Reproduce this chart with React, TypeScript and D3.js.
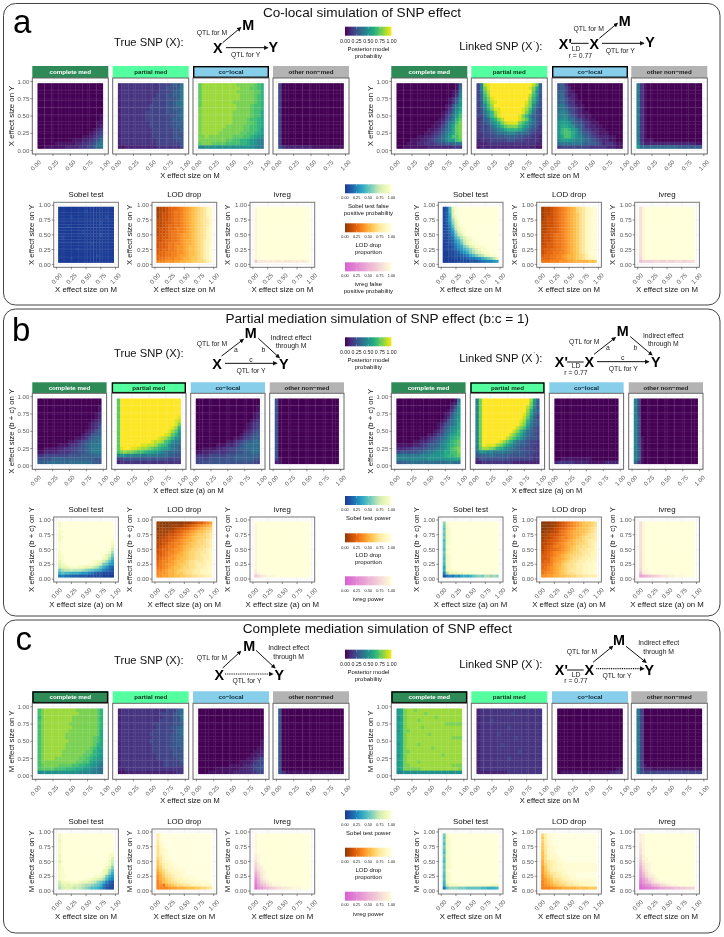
import React from "react";
import * as d3 from "d3";

// cell values, top row (y = 0.95) first, left column (x = 0.05) first
// a = 0.00, b = 0.05, c = 0.10 ... u = 1.00; a short row repeats its last letter
const aTrueComplete = ["a","a","a","a","a","a","a","a","a","aaaaaaaaaaaaaaaaaab","aaaaaaaaaaaaaaaaaab","aaaaaaaaaaaaaaaaabb","aaaaaaaaaaaaaaaaabc","aaaaaaaaaaaaaaaabcd","aaaaaaaaaaaaaaabcde","aaaaaaaaaaaaabbcdef","aaaaaaaaaabbbccdefh","aaaaabbbbbbccddefhi","aabbbbbbccccddeeghi"];
const aTruePartial = ["cdddddddddddeeefgfi","cdddddddddddeefffgi","cdddddddddddeeefggi","cddddddddddeeeffggi","cdddddddddeeeefffgi","cdddddddddeeeeffghi","cddddddddeeeeeffghi","cddddddddeeeeeffggh","cdddddddeeeeeefffgh","cdddddddeeeeeeeffgh","cdddddddeeeeeeefggh","cddddddddeeeeeeffgg","cddddddddeeeeeeffgg","cdddddddddeeeeeeffg","cdddddddddeeeeeefff","cdddddddddeeeeeefff","cddddddddddeeeeeeff","cddddddddddeeeeeeef","bbcccccccccddddddde"];
const aTrueColocal = ["prrrrrrrrrrqqqqqpon","prrrrrrrrrrrqqqppon","prrrrrrrrrrqqqqqppn","prrrrrrrrrrrqqqqpon","prrrrrrrrrrrqqqqpon","prrrrrrrrrqqqqqqpon","prrrrrrrrrrqqqqpoon","qrrrrrrrrrrqqqqpoon","qrrrrrrrrrqqqqqpoom","qrrrrrrrrrqqqqqpoom","qrrrrrrrrrqqqqpoonm","qrrrrrrrrrqqqqpponm","qrrrrrrrqqqqqppoonm","qrrrrrrqqqqqqppoonl","qrrrrrqqqqqqppoonml","qqrqqqqqqqpppoonmlk","qqqqqqqqppoonnmlkji","pqqqppppoooonnmlkji","jjkkkkkkkkkkkkkkjii"];
const aTrueOther = ["ea","ea","ea","ea","ea","ea","ea","ea","ea","ea","ea","ea","ea","ea","ea","ea","ea","ea","fdccccccccb"];
const aLinkedComplete = ["aaaaaaaaaaaaaaaaabg","aaaaaaaaaaaaaaaaabh","aaaaaaaaaaaaaaaabci","aaaaaaaaaaaaaaaabdj","aaaaaaaaaaaaaaabdfk","aaaaaaaaaaaaaaabdgl","aaaaaaaaaaaaaabcfil","aaaaaaaaaaaaaabdgjm","aaaaaaaaaaaaabcehkn","aaaaaaaaaaaaabdfilo","aaaaaaaaaaaabcegjnp","aaaaaaaaaaabbdfikoq","aaaaaaaaaabbcegjmpq","aaaaaaaaabbcdfhjmpq","aaaaaaaabbcdegikmpq","aaaaaabbccdefhjlooq","aaaabbbccdefghjllop","aaabbbccdddeffgghhi","aabbbbbbbcccccccddd"];
const aLinkedPartial = ["ejstuuuuuuuuuuuuspg","ejqtuuuuuuuuuuutqmg","eipsuuuuuuuuuuuupkg","ehoruuuuuuuuuuusolf","ehnqtuuuuuuuuuurnjf","egmpstuuuuuuuutqmif","egkoruuuuuuuuusqkhf","efjnqttuuuuuutrojge","efilnrtuuuuuutqnife","eehknqtuuuuutqnjgfe","deghlnqsuuuutrplhfe","defhjlnqstttqomjhfe","deefhjlnpqqqomkigfd","deefghjkmnnnmkigfed","ddeefghhijjihhgfedd","ddeeefffggggffeeddc","cdddeeeeeffeeeddddc","cccddddddddddddddcc","bccccccccccccccccbb"];
const aLinkedColocal = ["fgdba","fgeca","ggecba","gheccba","ghfdcba","ghfddbba","higedcbba","hihfedcba","ijigedcbba","ijjhfeccbba","jkkihfedcbba","kllkhgfedcbba","kmmlkhgfdccbba","knonlkhfedccbba","knoomkigfedcbbba","kmoomkjhgfedcccbba","jlllkjjihgfedccbbaa","hiiiiiihgggfecddcbb","deeeeeeeedddddcccbb"];
const aLinkedOther = ["idba","idba","idba","idba","idba","idba","idba","idba","idba","idba","idba","idba","idba","idba","idba","idba","idbbba","jecccccccccccccccbb","lhhhhhhhhhhhg"];
const aTrueSobel = ["a","aaaaaaaaabaaaaaa","a","aaaabaaaaaaaaaaaba","a","aaaaaaaaaaaaaabaa","aaabaaaaaaaaa","a","aaaaaaaabaaa","aaaaaaaaaaaaaaba","abaaaaaaaaaaa","a","aaaaaaaaaaabaaa","a","aaaaaabaaaaaaa","a","aaaaaaaaaaaaabaaaa","aaaabaaaa","a"];
const aTrueLod = ["bccdeffghijklmnoprs","bccdefgghijklmnoprs","bcddefgghijklmnoprs","bcddefgghijklmnoprs","ccddefgghijklmnopqs","ccdeefgghijklmnopqs","ccdeffgghijklmnopqs","cddeffghhijklmnoprs","cddefgghhijklmnoprs","cddefgghijjklmnoprs","ddeefgghijjklmnoprs","ddeffgghijkklmnoqrs","deefgghhijkklmnoqrs","deefgghiijkllmnoqrt","eeffgghiijkllmnoqrt","effgghhiijkllmnoqrt","fffgghhijjkllmnoqrt","fgghhhiijkklmmnoqrt","hhhiiijjkkllmmnnoqr"];
const aTrueIvreg = ["tu","tu","tu","tu","tu","tu","tu","tu","tu","tu","tu","tu","tu","tu","tu","tu","tu","tu","nrrrsrsrrsrrrsrsrst"];
const aLinkedSobel = ["bdjrtu","bdjqtu","bdiqtu","bdhpsu","bdhnrtu","bdgmqtu","bcfkpstu","bceiorttu","bcegmqstu","bbdfkoqtu","bbdeiloqstu","abcdgimprstu","abcdfhkorsttu","abbceghlnqrtttu","abbcdfgikmoqsttu","aabbcdfgilnpqsttu","aabbccdefhjlnorsttu","aaabbbccdeefgijlmor","aaaaabbbbcccdeeffgh"];
const aLinkedLod = ["bccdefghijklnoprstt","bccdefghijklnoprstt","bccdefghijklmoprstt","bcddefghijklmoprstt","bcddefghijklmoprstt","ccddefghijklmoprstt","ccddefghijklmoprstt","ccdeefghijklmoprstt","ccdeefghijklmoprstt","cddefgghijklmoprstt","cddefgghijklmoprstt","cddefgghijklmoprstt","cdeefgghijklmoprstt","ddeefgghijklmoprstt","deeffgghijklmoprstt","deffgghhijklmoprstt","effgghhijkklmnoqstt","fffgghhijkklmnoqrst","ggghhhiiijjkkkkkllm"];
const aLinkedIvreg = ["qtu","qtu","qtu","qtu","qtu","qtu","qtu","qtu","qtu","qtu","qtu","qtu","qtu","qtu","qtu","qtu","qtu","ptu","mooooppoopoopppoppq"];

const bTrueComplete = ["a","a","aaaaaaaaaaaaaaaaaab","aaaaaaaaaaaaaaaaaab","aaaaaaaaaaaaaaaaabc","aaaaaaaaaaaaaaaaabc","aaaaaaaaaaaaaaaabcd","aaaaaaaaaaaaaaabcde","aaaaaaaaaaaaaaabcdf","aaaaaaaaaaaaaabcdfg","aaaaaaaaaaaaabcdfgg","aaaaaaaaaaabbcdfghh","aaaaaaaaabbcdefghhi","aaaaaabbbcddefghiii","aabbbbccddeeffghiii","bbccccddddeeffghiii","ddeeeeeeeffffgggghh","ffffgggggggggggggff","ggghhhhhhhhhhhhhggf"];
const bTruePartial = ["pu","pu","pu","pu","pu","puuuuuuuuuuuuuuuuut","puuuuuuuuuuuuuuuuts","puuuuuuuuuuuuuuuutq","puuuuuuuuuuuuuuutrn","puuuuuuuuuuuuuutrpl","puuuuuuuuuuuuutspnk","puuuuuuuuuuutsrpnkj","puuuuuuuuutssronkii","puuuuuuttssrponkihh","ptuuttsrrqponmlkihg","oqrqqpoonmmlkjihhgg","jkkjjjjiiiiihhhggff","eefffffffffffffeeee","cd"];
const bTrueColocal = ["a","a","aaaaaaaaaaaaaaaaaab","aaaaaaaaaaaaaaaaaab","aaaaaaaaaaaaaaaaabc","aaaaaaaaaaaaaaaaabc","aaaaaaaaaaaaaaaabcd","aaaaaaaaaaaaaaabcde","aaaaaaaaaaaaaaabcde","aaaaaaaaaaaaaabcdef","aaaaaaaaaaaaabcdefg","aaaaaaaaaaabbcdefgg","aaaaaaaaabbcdefgghh","aaaaaabbbccdefghhhh","aabbbbccddeefgghhhh","bbcccdddddeeffgghhh","ddddeeeeefffggggggg","eeeefffffffggggggff","eefffffffffffffffee"];
const bTrueOther = ["fa","fa","fa","fa","fa","fa","fa","fa","fa","fa","fa","fa","fa","fa","fa","fa","fa","eba","cba"];
const bLinkedComplete = ["aaaaaaaaaaaaaaaaabh","aaaaaaaaaaaaaaaabcj","aaaaaaaaaaaaaaaacfk","aaaaaaaaaaaaaaabdhk","aaaaaaaaaaaaaabcfik","aaaaaaaaaaaaaabdgjl","aaaaaaaaaaaaabcfhjl","aaaaaaaaaaaabceghjm","aaaaaaaaaaaabdfhjkm","aaaaaaaaaaabcegijln","aaaaaaaaabbcefhjlmn","aaaaaaabbcdefhikmno","aaaaabbccdefgijlnop","bbbbbccdefgghjkmnop","cccddeeefgghijkmopq","efffffgghiijkkmmooq","iiiiiiijjjkkklmnnop","jjjjjjjjjkkkkkkllmm","ggghhhhhhhhhhhhiihh"];
const bLinkedPartial = ["jquuuuuuuuuuuuuurlg","jquuuuuuuuuuuuuuqkg","jquuuuuuuuuuuuuspjf","jquuuuuuuuuuuuurnig","jquuuuuuuuuuuutqmhf","jquuuuuuuuuuuuspkge","jquuuuuuuuuuutrnjgf","jquuuuuuuuuuusqmigf","jquuuuuuuuuusqokhfe","jquuuuuuuuusqnkhgfe","jquuuuuuuusqomjhgfe","jquuuuuuusqomkigffe","jquuuuutrpnkihgfeed","jqutttrqomkihggfeed","iprrqpnmljihgffeedd","hkkjjiiiihhgggffeed","ggghhhggggfffffeedd","dfffffffffeeeeeeedd","ccdddddddddc"];
const bLinkedColocal = ["a","a","a","a","a","a","a","a","a","a","a","a","a","a","a","a","a","aabbbbbbbbba","cdddddccccbbbbbc"];
const bLinkedOther = ["jea","jea","jea","jea","jea","jfa","jfa","jfa","jfa","jfa","jfa","jfba","jfba","jfba","jgba","jgba","jgba","jgba","hdba"];
const bTrueSobel = ["su","su","tu","stu","su","stu","suuuuuuuuuuuuuuuuut","tuuuuuuuuuuuuuuuuus","tuuuuuuuuuuuuuuuuur","tuuuuuuuuuuuuuuuutp","suuuuuuuuuuuuuuutsn","stuuuuuuuuuuuuutrpl","stuuuuuuuuuuuuusrnj","rtuuuuuuuuuttsrpnkh","qstuuuuuuuttsrplkhg","prrstttssrrqonkiged","lnoopooonmlkjihfedc","ikjjiiihggfedccbbbb","efeedddcccbbbbba"];
const bTrueLod = ["baaaaaaaabbbcdeeghj","baaaabbbbcdefghijkl","abbbbbcdeefghijklmn","bbbbccdefghijkllmno","bbbcddefghijklmmnop","bccdeefghijklmmnnop","ccddefghijkklmnnopq","ccdefghhijklmmnnopq","cdefgghijkllmnnoopq","deffghiijklmnnoopqr","defghhijklmnnooppqr","eefghijkklmnnoopqqr","efghiijkllmnnoopqqr","fghhijkllmnoopppqrr","fghijjklmmnoopqqqrr","gghijkllmnnoopqqrrs","hhijkklmnnoopqqrrss","hiijkklmmnoopqqrrss","iijjkkllmmnnooppqqr"];
const bTrueIvreg = ["u","tu","tu","tu","tu","tu","tu","tu","tu","tu","tu","tu","tu","tu","tu","tu","su","rtu","nprstttu"];
const bLinkedSobel = ["mtu","lsu","kstu","lstu","kstu","lstu","jstu","kstu","ktu","jstu","ltu","kstu","jstu","kstu","jstu","hstu","isttu","fnrrrssttttu","cefegfhihiklmlnnmnm"];
const bLinkedLod = ["aaabbcdefghijklmmno","aaabbcdefghijkllmno","aabbcdefghijkllmnop","abbccdfghijkkllmnop","bbcddefghijkklmnopq","bccdefghhijklmnoopq","bcdeefghijklmmnopqq","ccdefghijkklmnnopqr","cdefghhijklmnnoopqr","cdeffghijklmnoopqqr","defghiijklmnnoppqrr","eefghijklmnnoopqqrr","eefhijjklmnoopqqrrs","effhijklmnoopqqrrss","ffghjkkmnoopqqrrsst","fghijklmnoopqqrrsst","gghijklmnoppqqrrsst","ghiijklmnoopqqrrsst","iijjkkllmmnnooppqqq"];
const bLinkedIvreg = ["qtu","qtu","qtu","qtu","qtu","qtu","qtu","qtu","qtu","qtu","qtu","qtu","qtu","qtu","qtu","qtu","pttu","msttu","ijlmnopqrrsstttu"];

const cTrueComplete = ["oqrrrrrrrrrqqqqqqpn","oqrrrrrrrrrrqqqqqpn","nqrrrrrrrrqqqqqqqpn","oqrrrrrrrrqqqqqqqpn","oqrrrrrrrqqqqqqqqpn","oqrrrrrrrrqqqqqqqpn","oqrrrrrrrqqqqqqqqpm","oqrrrrrrqqqqqqqqqpm","oqrrrrrrqqqqqqqqpom","oqrrrrrrrqqqqqqqpom","oqrrrrrrqqqqqqqqpnm","oqrrrrrrqqqqqqqpomm","oqrrrrrqqqqqqqppnml","oqrrrrrqqqqqqpponml","oqrrrqqqqqqqpponmlk","oqqqqqqqqqqppoomlkj","opqqqqppppoonnmlkji","oppppooonnnmmlkkjih","jkkkkkkkkkkkjjjjiih"];
const cTruePartial = ["cdddddddddddddeeegh","cdddddddddddeeeefgh","cddddddddddddeeeffi","cdddddddddddeeeeffh","cdddddddddeeeeeeffg","cddddddddddeeeeffgh","cdddddddddeeeeeefgh","cddddddddeeeeeeffgh","cdddddddddeeeeeffgg","cddddddddeeeeeeffgg","cdddddddddeeeeeffgg","cdddddddddeeeeefffg","cdddddddddeeeeeefff","cddddddddddeeeeefff","cddddddddddeeeeeeff","cddddddddddddeeeeef","cddddddddddddeeeeee","ccd","bbcccccccccccccccdd"];
const cTrueColocal = ["a","a","a","a","a","a","a","a","a","aaaaaaaaaaaaaaaaaab","aaaaaaaaaaaaaaaaaab","aaaaaaaaaaaaaaaaabb","aaaaaaaaaaaaaaaabbc","aaaaaaaaaaaaaaabbcc","aaaaaaaaaaaaaabbcde","aaaaaaaaaaaabbbcdee","aaaaaaaaabbbbccdeef","aaaaabbbbbbbcccdeff","aaabbbbbbbcccccddee"];
const cTrueOther = ["fa","fa","fa","fa","fa","fa","fa","fa","fa","fa","fa","fa","fa","fa","fa","fa","fa","fa","fdb"];
const cLinkedComplete = ["lmqrrqr","lmqrrrrrqrrrrr","kmqrrrrrrrrqr","lmqrrrqr","lmqrrrrrrrrrrrq","lmqrrrrqrr","kmqqrrrrrrrrrr","lmqrrrrrrqrrr","lmqrrrrrrrrrrrrrq","lmqrrrr","kmqrrrqrrrr","lmqrrrrrrrqrrr","lmqqrrrrrrrrrr","kmqrrrrrrrrrrqr","lmqrrrr","lmqrrrqrrrrrr","lmqqrrrrrrrrrrrrq","lmqqqqqrrrrrrrrrrrq","jjk"];
const cLinkedPartial = ["cd","cddddddddded","cd","cdddedddd","cd","cdddddddded","cd","cddddded","cdddddddddded","cd","cdddddded","cd","cddddddddddded","cd","cdddddddded","cd","cd","cd","cccccccccd"];
const cLinkedColocal = ["a","a","a","a","a","a","a","a","a","a","a","a","a","a","a","a","a","aaaaaaaaaaaaaaaaabb","abbbbbbbbbbbbbbccdc"];
const cLinkedOther = ["iea","iea","iea","iea","iea","iea","iea","iea","iea","iea","iea","iea","iea","iea","iea","iea","ieba","ieccb","ife"];
const cTrueSobel = ["su","su","ru","su","su","su","suuuuuuuuuuuuuuuuut","ruuuuuuuuuuuuuuuuts","suuuuuuuuuuuuuuuutq","qtuuuuuuuuuuuuuuusp","suuuuuuuuuuuuuuutso","stuuuuuuuuuuuuuusqm","stuuuuuuuuuuuuusrnk","stuuuuuuuuuuuutsqmi","sttuuuuuuuuuttsqlig","stuuuuuuuttsrqpnjgf","pssstttsrrqpomkifdc","oqrqrqqponnmlkifdcb","npqqqoponmljjigecbb"];
const cTrueLod = ["ptu","qtu","ptu","pstu","ostu","orstu","orstu","oqstu","npsttu","mprsttu","moqrsttu","lnqrssttu","kmoqrsstttu","jlnpqrssttu","ikmopqrsstttu","iklnopqrrsstttu","hjlmnopqrrssstttttu","higklmnooppqrrrsss","hhhhijjkkklllmmnnop"];
const cTrueIvreg = ["tu","tu","tu","tu","tu","tu","tu","stu","rtu","qtu","psu","orsu","mqstu","kortu","inrtu","glqstu","fkoqstu","dilnqrtttu","cghklnopqrrsstttu"];
const cLinkedSobel = ["lsu","kstu","lstu","jstu","lstu","kstu","jstu","lstu","kstu","jstu","lstu","kstu","ltu","kstu","jstu","kstu","istu","ipssstttttttttttsss","ekmmmlllkkkkkjjiiij"];
const cLinkedLod = ["nqttu","mqttu","nqstu","mqstu","mpssttu","mpsstu","lpsstu","lorsstu","lorssttu","kopqrsttu","knpqrsstt","jmpqrsstt","jmoqrrssttt","jlnppqrsstttu","ikmnpqqrrsttu","ijlmoopqrrsstt","hjklnnoppqqrrsssstt","hijklmnnoppqqrrssst","hhhiijjkkkkkllllm"];
const cLinkedIvreg = ["stu","stu","stu","rtu","rtu","qtu","qtu","psu","ostu","nrtu","mqstu","kpstu","jortu","imqstu","hkprstu","filpqstu","ehkmprsttu","ceghkmnpqrsttu","bcdefghjjkklmmnnoop"];

const stripLabels = ["complete med", "partial med", "co\u2212local", "other non\u2212med"];
const stripFills = ["#2e8b57", "#54ff9f", "#87ceeb", "#b3b3b3"];
const stripInks = ["#ffffff", "#0d2d18", "#0d2430", "#1a1a1a"];
const methodLabels = ["Sobel test", "LOD drop", "ivreg"];
const tickValues = [0, 0.25, 0.5, 0.75, 1];
const seamValues = [0.125, 0.25, 0.375, 0.5, 0.625, 0.75, 0.875];
const fmt = d3.format(".2f");

const sobelStops = ["#1a3a94", "#225ea8", "#1d91c0", "#41b6c4", "#7fcdbb", "#c7e9b4", "#edf8b1", "#ffffd9"];
const lodStops = ["#8a3a08", "#cc4c02", "#ec7014", "#fe9929", "#fec44f", "#fee391", "#fff7bc", "#ffffe0"];
const ivregStops = ["#d860d0", "#ffffd9"];

const ramp = (stops: string[]) =>
  d3.scaleLinear<string>().domain(stops.map((_, i) => i / (stops.length - 1))).range(stops).clamp(true);
const viridis = (t: number) => d3.interpolateViridis(t);
const sobelColor = ramp(sobelStops);
const lodColor = ramp(lodStops);
const ivregColor = ramp(ivregStops);

const FONT = "'Liberation Sans', Arial, sans-serif";
const cellCenters = d3.range(19).map((i) => (i + 1) * 0.05);

type PlotProps = { x0: number; y0: number; w: number; h: number; rows: string[]; color: (t: number) => string; yTicks: boolean; tickFont: number; border: string };

const Plot = ({ x0, y0, w, h, rows, color, yTicks, tickFont, border }: PlotProps) => {
  const pad = 0.05 / 1.1;
  const x = d3.scaleLinear().domain([0, 1]).range([x0 + w * pad, x0 + w * (1 - pad)]);
  const y = d3.scaleLinear().domain([0, 1]).range([y0 + h * (1 - pad), y0 + h * pad]);
  const cw = x(0.05) - x(0);
  const ch = y(0) - y(0.05);
  const overlap = 0.3;
  return (
    <g>
      <rect x={x0} y={y0} width={w} height={h} fill="#fff" />
      {tickValues.map((t) => (
        <g key={t} stroke="#ebebeb" strokeWidth={0.5}>
          <line x1={x(t)} x2={x(t)} y1={y0} y2={y0 + h} />
          <line x1={x0} x2={x0 + w} y1={y(t)} y2={y(t)} />
        </g>
      ))}
      {rows.map((row, r) => {
        const full = row.padEnd(19, row[row.length - 1]);
        return cellCenters.map((cx, c) => (
          <rect
            key={c}
            x={x(cx) - cw / 2}
            y={y(0.95 - r * 0.05) - ch / 2}
            width={cw + (c < 18 ? overlap : 0)}
            height={ch + (r < 18 ? overlap : 0)}
            fill={color((full.charCodeAt(c) - 97) * 0.05)}
          />
        ));
      })}
      {seamValues.map((t) => (
        <g key={t} stroke="#fff" strokeWidth={0.4} strokeOpacity={0.16}>
          <line x1={x(t)} x2={x(t)} y1={y(0.025)} y2={y(0.975)} />
          <line x1={x(0.025)} x2={x(0.975)} y1={y(t)} y2={y(t)} />
        </g>
      ))}
      <rect x={x0} y={y0} width={w} height={h} fill="none" stroke={border} strokeWidth={1} />
      {tickValues.map((t) => (
        <g key={t}>
          <line x1={x(t)} x2={x(t)} y1={y0 + h} y2={y0 + h + 2} stroke="#444" strokeWidth={0.6} />
          <text
            transform={`translate(${x(t)},${y0 + h + 11.3}) rotate(-45)`}
            textAnchor="middle"
            dy="0.35em"
            fontSize={tickFont}
            fill="#5a5a5a"
          >
            {fmt(t)}
          </text>
          {yTicks && (
            <g>
              <line x1={x0 - 2} x2={x0} y1={y(t)} y2={y(t)} stroke="#444" strokeWidth={0.6} />
              <text x={x0 - 3} y={y(t)} dy="0.35em" textAnchor="end" fontSize={tickFont} fill="#5a5a5a">
                {fmt(t)}
              </text>
            </g>
          )}
        </g>
      ))}
    </g>
  );
};

type LegendProps = { top: number; tickY: number; color: (t: number) => string; id: string; lines: [string, number][]; tickFont: number };

const Legend = ({ top, tickY, color, id, lines, tickFont }: LegendProps) => {
  const x = d3.scaleLinear().domain([0, 1]).range([345, 391.5]);
  return (
    <g>
      <defs>
        <linearGradient id={id}>
          {d3.range(0, 1.01, 0.1).map((t) => (
            <stop key={t} offset={t} stopColor={color(t)} />
          ))}
        </linearGradient>
      </defs>
      <rect x={345} y={top} width={46.5} height={9} fill={`url(#${id})`} />
      {tickValues.slice(1, 4).map((t) => (
        <g key={t} stroke="#fff" strokeWidth={0.3}>
          <line x1={x(t)} x2={x(t)} y1={top} y2={top + 2} />
          <line x1={x(t)} x2={x(t)} y1={top + 7} y2={top + 9} />
        </g>
      ))}
      {tickValues.map((t) => (
        <text key={t} x={x(t)} y={tickY} dy="0.35em" textAnchor="middle" fontSize={tickFont} fill="#222">
          {fmt(t)}
        </text>
      ))}
      {lines.map(([s, ly]) => (
        <text key={s} x={368.4} y={ly} dy="0.35em" textAnchor="middle" fontSize={6} fill="#111">
          {s}
        </text>
      ))}
    </g>
  );
};

// diagram pieces are given in 3x units, relative to the crop origin
type Note = [string, number, number, boolean?];
type Arrow = [number, number, number, number, boolean?];

const Diagram = ({ ox, oy, notes, arrows, plain }: { ox: number; oy: number; notes: Note[]; arrows: Arrow[]; plain?: number[] }) => (
  <g transform={`translate(${ox},${oy}) scale(${1 / 3})`}>
    {arrows.map(([x1, y1, x2, y2, dotted], i) => (
      <line
        key={i}
        x1={x1}
        y1={y1}
        x2={x2}
        y2={y2}
        stroke="#111"
        strokeWidth={dotted ? 3.4 : 3}
        strokeDasharray={dotted ? "3 2.5" : undefined}
        markerEnd="url(#arrowHead)"
      />
    ))}
    {plain && <line x1={plain[0]} x2={plain[1]} y1={plain[2]} y2={plain[2]} stroke="#111" strokeWidth={3} />}
    {notes.map(([s, x, y, bold], i) => (
      <text key={i} x={x} y={y} dy="0.35em" textAnchor="middle" fontSize={bold ? 43 : 20.5} fontWeight={bold ? 700 : 400} fill={bold ? "#000" : "#222"}>
        {s}
      </text>
    ))}
  </g>
);

const Linked = ({ x, y }: { x: number; y: number }) => (
  <text x={x} y={y} fontSize={11.2} fill="#111">
    Linked SNP (X
    <tspan dy={-5.5} dx={1} fontSize={6}>'</tspan>
    <tspan dy={5.5} dx={1}>):</tspan>
  </text>
);

type Group = { stripY: number; stripH: number; panelY: number; panelH: number; panelW: number; xs: number[]; rows: string[][]; picked: number; yLabel: string; xLabel: string; xLabelX: number; xLabelY: number };
type Lower = { boxY: number; xs: number[]; rows: string[][]; yLabel: string; xLabel: string };

const Upper = ({ g }: { g: Group }) => (
  <g>
    {g.xs.map((x0, i) => (
      <g key={i}>
        <rect x={x0} y={g.stripY} width={g.panelW} height={g.stripH} fill={stripFills[i]} />
        {g.picked === i && (
          <rect x={x0 + 0.7} y={g.stripY + 0.7} width={g.panelW - 1.4} height={g.stripH - 1.4} fill="none" stroke="#000" strokeWidth={1.4} />
        )}
        <text x={x0 + g.panelW / 2} y={g.stripY + g.stripH / 2} dy="0.35em" textAnchor="middle" fontSize={6.2} fontWeight={700} fill={stripInks[i]}>
          {stripLabels[i]}
        </text>
        <Plot x0={x0} y0={g.panelY} w={g.panelW} h={g.panelH} rows={g.rows[i]} color={viridis} yTicks={i === 0} tickFont={6} border="#666" />
      </g>
    ))}
    <text transform={`translate(${g.xs[0] - 21.3},${g.panelY + g.panelH / 2}) rotate(-90)`} textAnchor="middle" fontSize={7.8} dy="0.35em" fill="#111">
      {g.yLabel}
    </text>
    <text x={g.xLabelX} y={g.xLabelY} dy="0.35em" textAnchor="middle" fontSize={7.5} fill="#111">
      {g.xLabel}
    </text>
  </g>
);

const Bottom = ({ l }: { l: Lower }) => (
  <g>
    {l.xs.map((x0, i) => {
      const color = [sobelColor, lodColor, ivregColor][i];
      return (
        <g key={i}>
          <text x={x0 + 32.3} y={l.boxY - 8} dy="0.35em" textAnchor="middle" fontSize={7.9} fill="#111">
            {methodLabels[i]}
          </text>
          <Plot x0={x0} y0={l.boxY} w={64.7} h={65} rows={l.rows[i]} color={color} yTicks tickFont={6.2} border="#777" />
          <text transform={`translate(${x0 - 22.4},${l.boxY + 32.5}) rotate(-90)`} textAnchor="middle" dy="0.35em" fontSize={7.8} fill="#111">
            {l.yLabel}
          </text>
          <text x={x0 + 32.3} y={l.boxY + 87} dy="0.35em" textAnchor="middle" fontSize={7.8} fill="#111">
            {l.xLabel}
          </text>
        </g>
      );
    })}
  </g>
);

const leftWide = [32.3, 112.7, 193, 273];
const rightWide = [391.3, 471.3, 552, 631.3];
const leftMid = [32.3, 111.7, 190.7, 269.7];
const rightMid = [391.3, 470.3, 549.3, 628.7];
const lowerLeft = [53.7, 152, 250];
const lowerRight = [438.3, 536.7, 634.7];

const Title = ({ x, y, children }: { x: number; y: number; children: string }) => (
  <text x={x} y={y} textAnchor="middle" fontSize={13.6} fill="#111">
    {children}
  </text>
);

export default function App() {
  const upperA = { stripY: 66, stripH: 12, panelY: 78, panelH: 76, panelW: 76, yLabel: "X effect size on Y", xLabel: "X effect size on M", xLabelY: 175 };
  const upperB = { stripY: 382.3, stripH: 11, panelY: 393.3, panelH: 76, panelW: 74.3, yLabel: "X effect size (b + c) on Y", xLabel: "X effect size (a) on M", xLabelY: 490 };
  const upperC = { stripY: 691.3, stripH: 12, panelY: 703.3, panelH: 76, panelW: 76, yLabel: "M effect size on Y", xLabel: "X effect size on M", xLabelY: 800.3 };
  return (
    <svg width={724} height={937} style={{ position: "absolute", left: 0, top: 0, filter: "blur(0.3px)" }} fontFamily={FONT}>
      <defs>
        <marker id="arrowHead" viewBox="0 0 10 10" refX="8" refY="5" markerWidth="4.5" markerHeight="4.5" orient="auto-start-reverse">
          <path d="M0,0 L10,5 L0,10 Z" fill="#111" />
        </marker>
      </defs>
      <rect width={724} height={937} fill="#fff" />
      <rect x={3.5} y={3.5} width={716.5} height={301.5} rx={12} fill="#fff" stroke="#444" strokeWidth={1} />
      <rect x={3.5} y={309} width={716.5} height={307} rx={12} fill="#fff" stroke="#444" strokeWidth={1} />
      <rect x={3.5} y={620} width={716.5} height={313} rx={12} fill="#fff" stroke="#444" strokeWidth={1} />

      {/* panel a */}
      <text x={13} y={33} fontSize={33} fill="#000">a</text>
      <Title x={362} y={17}>Co-local simulation of SNP effect</Title>
      <text x={114} y={46} fontSize={11.2} fill="#111">True SNP (X):</text>
      <Linked x={459.3} y={50} />
      <Diagram ox={0} oy={0}
        notes={[["X", 653, 145, true], ["M", 745, 75, true], ["Y", 820, 141, true], ["QTL for M", 636, 98], ["QTL for Y", 737, 165]]}
        arrows={[[668, 128, 722, 83], [678, 143, 803, 143]]} />
      <Diagram ox={362} oy={0} plain={[627, 680, 130]}
        notes={[["X'", 610, 133, true], ["X", 697, 133, true], ["M", 788, 62, true], ["Y", 864, 127, true], ["LD", 642, 147], ["r = 0.77", 655, 167], ["QTL for M", 680, 86], ["QTL for Y", 775, 152]]}
        arrows={[[712, 115, 766, 70], [720, 130, 845, 130]]} />
      <Legend id="ga1" top={26.7} tickY={40.7} color={viridis} tickFont={5.2} lines={[["Posterior model", 49], ["probability", 56]]} />
      <Legend id="ga2" top={184.3} tickY={197.7} color={sobelColor} tickFont={3.8} lines={[["Sobel test false", 206], ["positive probability", 212.7]]} />
      <Legend id="ga3" top={223.3} tickY={237} color={lodColor} tickFont={3.8} lines={[["LOD drop", 245.3], ["proportion", 252]]} />
      <Legend id="ga4" top={262.3} tickY={276} color={ivregColor} tickFont={3.8} lines={[["ivreg false", 284.3], ["positive probability", 291]]} />
      <Upper g={{ ...upperA, xs: leftWide, rows: [aTrueComplete, aTruePartial, aTrueColocal, aTrueOther], picked: 2, xLabelX: 190 }} />
      <Upper g={{ ...upperA, xs: rightWide, rows: [aLinkedComplete, aLinkedPartial, aLinkedColocal, aLinkedOther], picked: 2, xLabelX: 549.5 }} />
      <Bottom l={{ boxY: 202.3, xs: lowerLeft, rows: [aTrueSobel, aTrueLod, aTrueIvreg], yLabel: "X effect size on Y", xLabel: "X effect size on M" }} />
      <Bottom l={{ boxY: 202.3, xs: lowerRight, rows: [aLinkedSobel, aLinkedLod, aLinkedIvreg], yLabel: "X effect size on Y", xLabel: "X effect size on M" }} />

      {/* panel b */}
      <text x={12} y={340.7} fontSize={33} fill="#000">b</text>
      <Title x={377.3} y={322.7}>Partial mediation simulation of SNP effect (b:c = 1)</Title>
      <text x={114} y={357.3} fontSize={11.2} fill="#111">True SNP (X):</text>
      <Linked x={459.3} y={361.7} />
      <Diagram ox={0} oy={310}
        notes={[["X", 651, 162, true], ["M", 752, 68, true], ["Y", 851, 162, true], ["QTL for M", 636, 100], ["a", 708, 120], ["b", 790, 118], ["c", 753, 148], ["QTL for Y", 753, 182], ["Indirect effect", 873, 82], ["through M", 873, 106]]}
        arrows={[[665, 138, 730, 88], [775, 85, 838, 143], [675, 160, 830, 160]]} />
      <Diagram ox={362} oy={310} plain={[615, 665, 156]}
        notes={[["X'", 598, 155, true], ["X", 682, 155, true], ["M", 782, 62, true], ["Y", 881, 156, true], ["LD", 642, 168], ["r = 0.77", 642, 188], ["QTL for M", 667, 95], ["a", 738, 113], ["b", 820, 112], ["c", 782, 142], ["QTL for Y", 784, 177], ["Indirect effect", 904, 77], ["through M", 904, 100]]}
        arrows={[[696, 133, 760, 83], [805, 80, 870, 135], [705, 155, 860, 155]]} />
      <Legend id="gb1" top={337.3} tickY={351.7} color={viridis} tickFont={5.2} lines={[["Posterior model", 360], ["probability", 366.7]]} />
      <Legend id="gb2" top={496} tickY={510} color={sobelColor} tickFont={3.8} lines={[["Sobel test power", 518.3]]} />
      <Legend id="gb3" top={533.3} tickY={547.3} color={lodColor} tickFont={3.8} lines={[["LOD drop", 555.3], ["proportion", 562.3]]} />
      <Legend id="gb4" top={576.3} tickY={590.7} color={ivregColor} tickFont={3.8} lines={[["ivreg power", 599.3]]} />
      <Upper g={{ ...upperB, xs: leftMid, rows: [bTrueComplete, bTruePartial, bTrueColocal, bTrueOther], picked: 1, xLabelX: 188.5 }} />
      <Upper g={{ ...upperB, xs: rightMid, rows: [bLinkedComplete, bLinkedPartial, bLinkedColocal, bLinkedOther], picked: 1, xLabelX: 547 }} />
      <Bottom l={{ boxY: 517, xs: lowerLeft, rows: [bTrueSobel, bTrueLod, bTrueIvreg], yLabel: "X effect size (b + c) on Y", xLabel: "X effect size (a) on M" }} />
      <Bottom l={{ boxY: 517, xs: lowerRight, rows: [bLinkedSobel, bLinkedLod, bLinkedIvreg], yLabel: "X effect size (b + c) on Y", xLabel: "X effect size (a) on M" }} />

      {/* panel c */}
      <text x={15.5} y={650.3} fontSize={33} fill="#000">c</text>
      <Title x={377.3} y={633.3}>Complete mediation simulation of SNP effect</Title>
      <text x={114} y={664} fontSize={11.2} fill="#111">True SNP (X):</text>
      <Linked x={459.3} y={668} />
      <Diagram ox={0} oy={618}
        notes={[["X", 658, 172, true], ["M", 748, 84, true], ["Y", 838, 172, true], ["QTL for M", 636, 118], ["QTL for Y", 741, 187], ["Indirect effect", 866, 90], ["through M", 866, 115]]}
        arrows={[[668, 150, 722, 100], [768, 97, 825, 150], [675, 168, 818, 168, true]]} />
      <Diagram ox={362} oy={618} plain={[615, 665, 156]}
        notes={[["X'", 598, 156, true], ["X", 682, 156, true], ["M", 771, 67, true], ["Y", 862, 156, true], ["LD", 642, 170], ["r = 0.77", 642, 188], ["QTL for M", 660, 102], ["QTL for Y", 765, 172], ["Indirect effect", 890, 74], ["through M", 890, 100]]}
        arrows={[[693, 133, 752, 85], [792, 85, 852, 133], [703, 152, 845, 152, true]]} />
      <Legend id="gc1" top={649.7} tickY={663.7} color={viridis} tickFont={5.2} lines={[["Posterior model", 672.3], ["probability", 679]]} />
      <Legend id="gc2" top={810.3} tickY={824.3} color={sobelColor} tickFont={3.8} lines={[["Sobel test power", 832.7]]} />
      <Legend id="gc3" top={847.7} tickY={861.7} color={lodColor} tickFont={3.8} lines={[["LOD drop", 870], ["proportion", 877]]} />
      <Legend id="gc4" top={891.7} tickY={905} color={ivregColor} tickFont={3.8} lines={[["ivreg power", 913.7]]} />
      <Upper g={{ ...upperC, xs: leftWide, rows: [cTrueComplete, cTruePartial, cTrueColocal, cTrueOther], picked: 0, xLabelX: 190 }} />
      <Upper g={{ ...upperC, xs: rightWide, rows: [cLinkedComplete, cLinkedPartial, cLinkedColocal, cLinkedOther], picked: 0, xLabelX: 549.5 }} />
      <Bottom l={{ boxY: 829, xs: lowerLeft, rows: [cTrueSobel, cTrueLod, cTrueIvreg], yLabel: "M effect size on Y", xLabel: "X effect size on M" }} />
      <Bottom l={{ boxY: 829, xs: lowerRight, rows: [cLinkedSobel, cLinkedLod, cLinkedIvreg], yLabel: "M effect size on Y", xLabel: "X effect size on M" }} />
    </svg>
  );
}
